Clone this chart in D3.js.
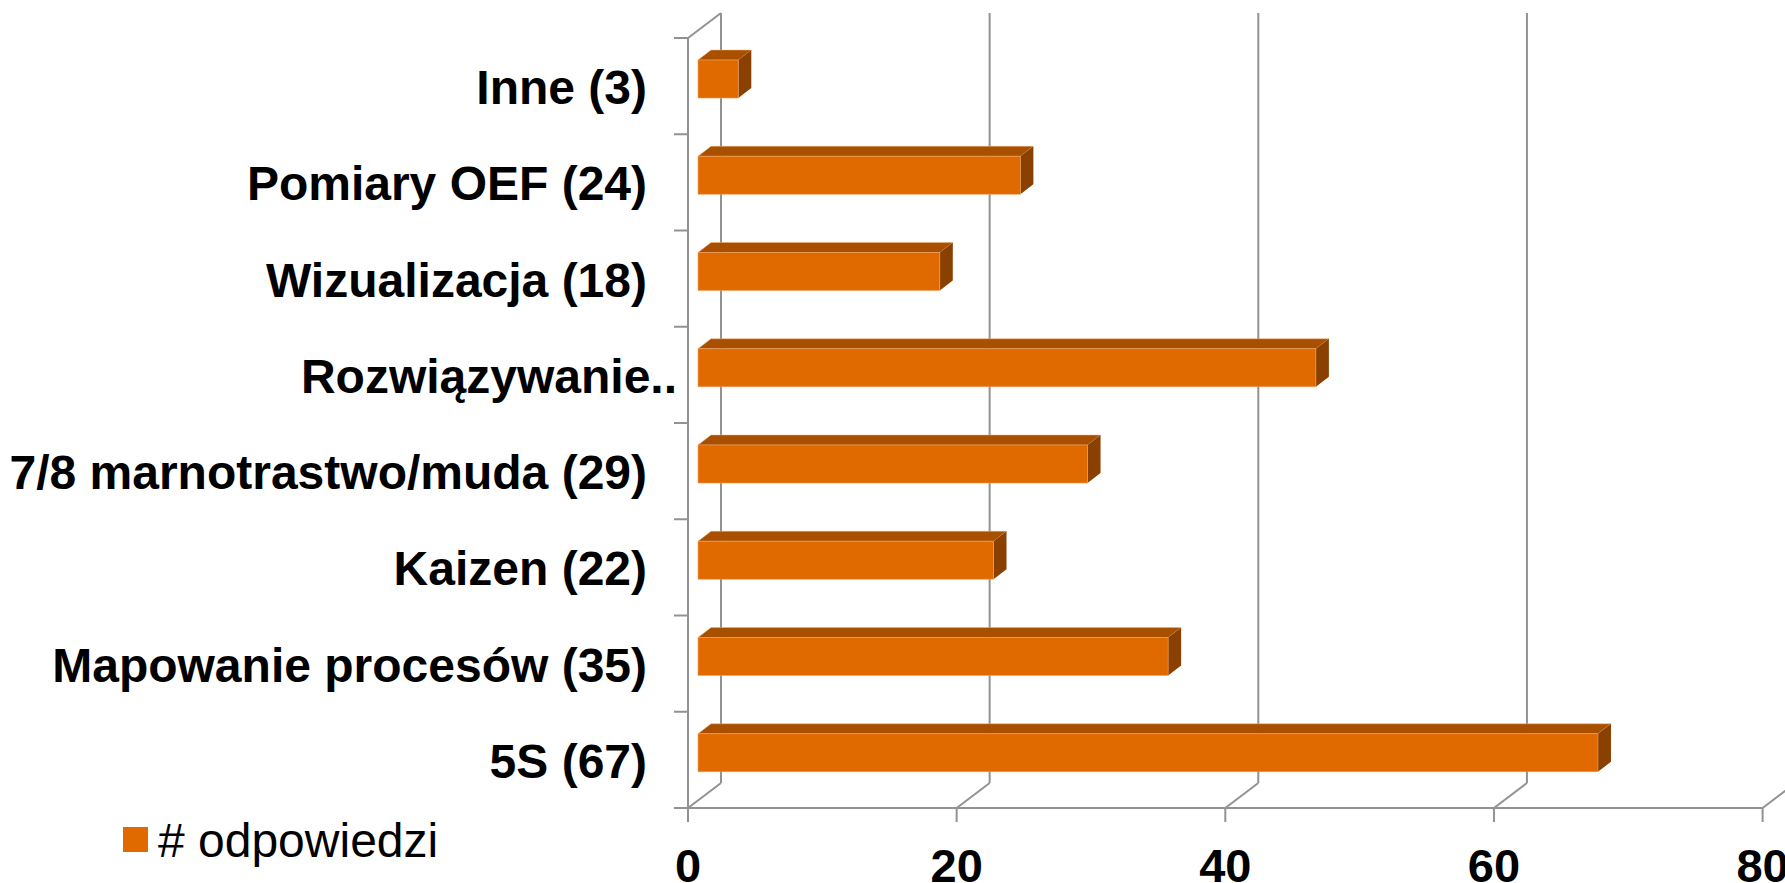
<!DOCTYPE html>
<meta charset="utf-8">
<head>
<style>
body { margin: 0; background: #fff; }
svg { display: block; }
.cat text, .xlab text { font-family: "Liberation Sans", Arial, sans-serif; font-weight: bold; fill: #000; }
.legend text { font-family: "Liberation Sans", Arial, sans-serif; fill: #000; }
</style>
<script src="https://d3js.org/d3.v7.min.js"></script>
</head>
<body>
<svg width="1785" height="883"></svg>
<script>

// data (bottom to top)
var categories = ["5S (67)", "Mapowanie procesów (35)", "Kaizen (22)", "7/8 marnotrastwo/muda (29)",
                  "Rozwiązywanie..", "Wizualizacja (18)", "Pomiary OEF (24)", "Inne (3)"];
var values = [67, 35, 22, 29, 46, 18, 24, 3];
var xTicks = [0, 20, 40, 60, 80];
var seriesName = "# odpowiedzi";

var svg = d3.select("svg");

var gridColor = "#929292";
var faceColor = "#e06a00",
    topColor = "#a85000",
    sideColor = "#8a4000";

// 3d wall depth
var dx = 33, dy = -25;
// bar depth
var bdx = 13, bdy = -10;

var x = d3.scaleLinear().domain([0, 80]).range([688, 1762.6]);
var y = d3.scaleBand()
    .domain(categories.slice().reverse())
    .range([38, 808])
    .padding(0);

var floorY = y.range()[1], topY = y.range()[0];

var grid = svg.append("g").attr("class", "grid")
    .attr("stroke", gridColor)
    .attr("stroke-width", 2)
    .attr("fill", "none");

// back wall vertical gridlines
grid.selectAll("line.back")
  .data(xTicks)
  .enter().append("line")
    .attr("class", "back")
    .attr("x1", d => x(d) + dx).attr("x2", d => x(d) + dx)
    .attr("y1", topY + dy).attr("y2", floorY + dy);

// floor diagonals
grid.selectAll("line.floor")
  .data(xTicks)
  .enter().append("line")
    .attr("class", "floor")
    .attr("x1", d => x(d)).attr("y1", floorY)
    .attr("x2", d => x(d) + dx).attr("y2", floorY + dy);

// left wall: front edge and top diagonal
grid.append("line")
    .attr("x1", x(0)).attr("x2", x(0))
    .attr("y1", topY).attr("y2", floorY);
grid.append("line")
    .attr("x1", x(0)).attr("y1", topY)
    .attr("x2", x(0) + dx).attr("y2", topY + dy);

// floor front edge
grid.append("line")
    .attr("x1", x(0)).attr("x2", x(80))
    .attr("y1", floorY).attr("y2", floorY);

// category ticks on the left
var catTicks = categories.map(c => y(c)).concat([floorY]);
grid.selectAll("line.ytick")
  .data(catTicks)
  .enter().append("line")
    .attr("class", "ytick")
    .attr("x1", x(0) - 14).attr("x2", x(0))
    .attr("y1", d => d).attr("y2", d => d);

// value ticks under the floor
grid.selectAll("line.xtick")
  .data(xTicks)
  .enter().append("line")
    .attr("class", "xtick")
    .attr("x1", d => x(d)).attr("x2", d => x(d))
    .attr("y1", floorY).attr("y2", floorY + 14);

// bars
var bh = y.bandwidth() * 0.395,
    boff = y.bandwidth() * 0.2286,
    x0 = x(0) + 10;

var bars = svg.append("g").attr("class", "bars")
  .selectAll("g")
  .data(categories.map((c, i) => ({cat: c, value: values[i]})))
  .enter().append("g");

bars.append("path")
    .attr("fill", topColor)
    .attr("stroke", "#f0b07a").attr("stroke-width", 0.8).attr("stroke-opacity", 0.6)
    .attr("d", function(d) {
      var yt = y(d.cat) + boff, xe = x0 + (x(d.value) - x(0));
      return "M" + x0 + "," + yt + "L" + (x0 + bdx) + "," + (yt + bdy) +
             "L" + (xe + bdx) + "," + (yt + bdy) + "L" + xe + "," + yt + "Z";
    });

bars.append("path")
    .attr("fill", sideColor)
    .attr("d", function(d) {
      var yt = y(d.cat) + boff, xe = x0 + (x(d.value) - x(0));
      return "M" + xe + "," + yt + "L" + (xe + bdx) + "," + (yt + bdy) +
             "L" + (xe + bdx) + "," + (yt + bdy + bh) + "L" + xe + "," + (yt + bh) + "Z";
    });

bars.append("rect")
    .attr("fill", faceColor)
    .attr("stroke", "#f0a460").attr("stroke-width", 0.8).attr("stroke-opacity", 0.7)
    .attr("x", x0)
    .attr("y", d => y(d.cat) + boff)
    .attr("width", d => x(d.value) - x(0))
    .attr("height", bh);

// category labels
svg.append("g").attr("class", "cat")
  .selectAll("text")
  .data(categories)
  .enter().append("text")
    .attr("text-anchor", "end")
    .attr("x", d => d.endsWith("..") ? x(0) - 11 : x(0) - 41)
    .attr("y", d => y(d) + y.bandwidth() / 2 + 18)
    .style("font-size", "48px")
    .text(d => d);

// value labels
svg.append("g").attr("class", "xlab")
  .selectAll("text")
  .data(xTicks)
  .enter().append("text")
    .attr("text-anchor", "middle")
    .attr("x", d => x(d))
    .attr("y", floorY + 74)
    .style("font-size", "47px")
    .text(d => d);

// legend
var legend = svg.append("g").attr("class", "legend");
legend.append("rect")
    .attr("x", 123).attr("y", 827)
    .attr("width", 25).attr("height", 25)
    .attr("fill", faceColor);
legend.append("text")
    .attr("x", 158).attr("y", 857)
    .style("font-size", "48px")
    .text(seriesName);

</script>
</body>
